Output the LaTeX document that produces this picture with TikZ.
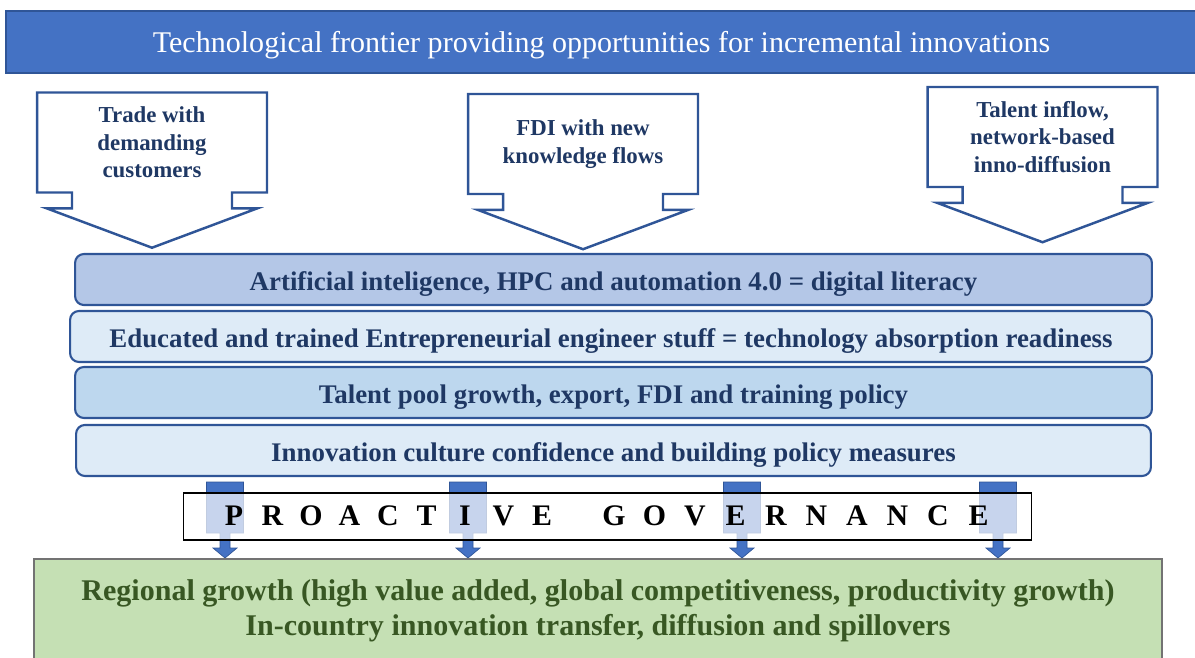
\documentclass[tikz,border=0pt]{standalone}
\usepackage{fontspec}
\setmainfont{Liberation Serif}
\usetikzlibrary{shapes.arrows, positioning}
\definecolor{frontblue}{HTML}{4472C4}
\definecolor{edgeblue}{HTML}{2F5597}
\definecolor{navytext}{HTML}{1F3864}
\definecolor{barone}{HTML}{B4C7E7}
\definecolor{bartwo}{HTML}{DEEBF7}
\definecolor{barthree}{HTML}{BDD7EE}
\definecolor{growfill}{HTML}{C5E0B4}
\definecolor{growtext}{HTML}{385723}

\begin{document}
\begin{tikzpicture}[
    x=0.02cm, y=-0.02cm,
    frontier/.style={rectangle, draw=edgeblue, line width=1.2pt, fill=frontblue, text=white, minimum width=23.82cm, minimum height=1.24cm, text depth=0pt, font=\fontsize{17.1}{20}\selectfont},
    channel/.style={arrow box, draw=edgeblue, line width=1.4pt, fill=white, text=navytext, align=center, minimum width=4.6cm, minimum height=2cm, font=\bfseries\fontsize{13}{15.6}\selectfont, arrow box arrows={south:1.08cm}, arrow box shaft width=3.2cm, arrow box head extend=0.5cm, arrow box head indent=0cm, arrow box tip angle=139},
    layer/.style={rectangle, rounded corners=5pt, draw=edgeblue, line width=1.2pt, outer sep=0pt, text=navytext, minimum width=21.54cm, minimum height=1.02cm, text height=12.3pt, text depth=0pt, font=\bfseries\fontsize{15.3}{18}\selectfont},
    govbox/.style={rectangle, draw=black, line width=0.6pt, fill=white, fill opacity=0.7, minimum width=16.98cm, minimum height=0.94cm},
    govletter/.style={anchor=base, inner sep=0pt, font=\bfseries\fontsize{17}{20}\selectfont},
    govarrow/.style={draw=edgeblue, line width=0.4pt, fill=frontblue},
    growth/.style={rectangle, draw=black!55, line width=0.8pt, fill=growfill, text=growtext, align=center, minimum width=22.56cm, minimum height=2.08cm, font=\bfseries\fontsize{17.1}{20.2}\selectfont}
]
\useasboundingbox (0,0) rectangle (1195,657);

% Frontier banner
\node[frontier] (front) at (601.5,42) {Technological frontier providing opportunities for incremental innovations};

% Knowledge channels
\node[channel] (trade) at (152,142.5) {Trade with\\demanding\\customers};
\node[channel] (fdi) at (583,144) {FDI with new\\knowledge flows};
\node[channel] (talent) at (1042.5,137) {Talent inflow,\\network-based\\inno-diffusion};

% Capability layers
\node[layer, fill=barone] (ai) at (613.5,279.5) {Artificial inteligence, HPC and automation 4.0 = digital literacy};
\node[layer, fill=bartwo, minimum width=21.64cm, below=0.12cm of ai, xshift=-0.05cm] (edu) {Educated and trained Entrepreneurial engineer stuff = technology absorption readiness};
\node[layer, fill=barthree, below=0.1cm of edu, xshift=0.05cm] (pool) {Talent pool growth, export, FDI and training policy};
\node[layer, fill=bartwo, minimum width=21.5cm, below=0.14cm of pool] (culture) {Innovation culture confidence and building policy measures};

% Governance arrows
\foreach \x in {225,468,742,998}
  \draw[govarrow] (\x-18.5,482) -- (\x+18.5,482) -- (\x+18.5,533) -- (\x+5,533) -- (\x+5,548) -- (\x+12,548)
    -- (\x,558) -- (\x-12,548) -- (\x-5,548) -- (\x-5,533) -- (\x-18.5,533) -- cycle;

% Proactive governance
\node[govbox] (gov) at (607.5,516.5) {};
\foreach \ch [count=\i from 0] in {P,R,O,A,C,T,I,V,E}
  \node[govletter] (pa\i) at (234+38.5*\i,525) {\ch};
\foreach \ch [count=\i from 0] in {G,O,V,E,R,N,A,N,C,E}
  \node[govletter] (gv\i) at (614+40.5*\i,525) {\ch};

% Regional growth
\node[growth] (grow) at (598,611) {Regional growth (high value added, global competitiveness, productivity growth)\\In-country innovation transfer, diffusion and spillovers};

\end{tikzpicture}
\end{document}
